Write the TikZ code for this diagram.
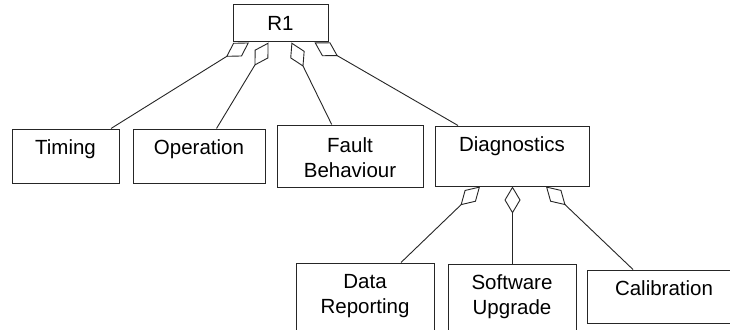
\documentclass[tikz,border=0pt]{standalone}
\usepackage{fontspec}
\setmainfont{Liberation Sans}
\usetikzlibrary{arrows.meta}
\begin{document}
\begin{tikzpicture}[x=1pt,y=-1pt,
  box/.style={draw=black!85, line width=1pt, rectangle, inner sep=0pt},
  txt/.style={inner sep=0pt, align=center, font=\fontsize{20.5}{25}\selectfont},
  agg/.style={draw=black!85, line width=0.9pt,
    -{Diamond[open, length=27pt, width=16pt, line width=0.9pt]}}]
\clip (0,0) rectangle (730,329);
\fill[white] (0,0) rectangle (730,329);

% class boxes
\node[box, minimum width=95pt,  minimum height=37pt] (r1)    at (280.5,23.5) {};
\node[box, minimum width=107pt, minimum height=54pt] (timing) at (65.5,156) {};
\node[box, minimum width=132pt, minimum height=54pt] (oper)   at (199,156) {};
\node[box, minimum width=146pt, minimum height=62pt] (fault)  at (350,156) {};
\node[box, minimum width=154pt, minimum height=60pt] (diag)   at (512,156) {};
\node[box, minimum width=138pt, minimum height=78pt] (data)   at (365,302) {};
\node[box, minimum width=128pt, minimum height=78pt] (soft)   at (512,303) {};
\node[box, minimum width=154pt, minimum height=53pt] (calib)  at (664,296.5) {};

% box captions (base anchor sits on the last line)
\node[txt, anchor=base] (r1t)     at ([yshift=-25.7]r1.north)     {R1};
\node[txt, anchor=base] (timingt) at ([yshift=-25.7]timing.north) {Timing};
\node[txt, anchor=base] (opert)   at ([yshift=-25.7]oper.north)   {Operation};
\node[txt, anchor=base] (faultt)  at ([yshift=-52.5]fault.north)  {Fault\\Behaviour};
\node[txt, anchor=base] (diagt)   at ([yshift=-26]diag.north)     {Diagnostics};
\node[txt, anchor=base] (datat)   at ([yshift=-51]data.north)     {Data\\Reporting};
\node[txt, anchor=base] (softt)   at ([yshift=-51]soft.north)     {Software\\Upgrade};
\node[txt, anchor=base] (calibt)  at ([yshift=-25.5]calib.north)  {Calibration};

% aggregation links, diamond at the whole
\draw[agg] ([xshift=45.5]timing.north) -- ([xshift=-31.5]r1.south);
\draw[agg] ([xshift=17.5]oper.north)   -- ([xshift=-12]r1.south);
\draw[agg] ([xshift=-18.3]fault.north) -- ([xshift=11]r1.south);
\draw[agg] ([xshift=-54]diag.north)    -- ([xshift=34]r1.south);
\draw[agg] ([xshift=36]data.north)     -- ([xshift=-32]diag.south);
\draw[agg] ([xshift=0.5]soft.north)    -- ([xshift=0.5]diag.south);
\draw[agg] ([xshift=-31]calib.north)   -- ([xshift=34]diag.south);
\end{tikzpicture}
\end{document}
